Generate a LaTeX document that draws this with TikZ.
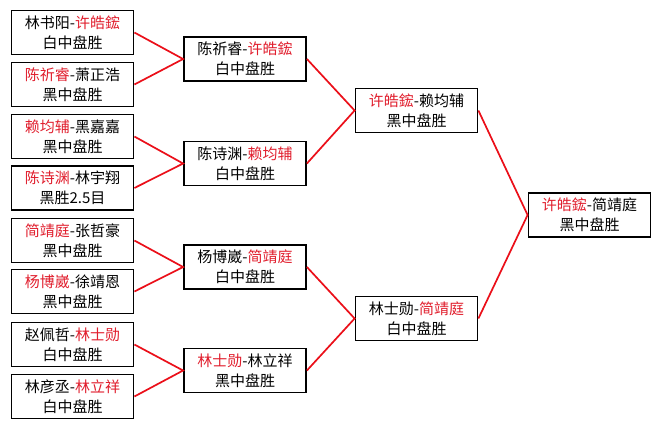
\documentclass[tikz,border=0pt]{standalone}
\usepackage{fontspec}
\setmainfont{Noto Sans CJK SC}
\definecolor{wred}{RGB}{225,30,45}
\definecolor{linkred}{RGB}{235,15,25}
\newcommand{\rd}[1]{\textcolor{wred}{#1}}
\begin{document}
\begin{tikzpicture}[x=1pt,y=-1pt,
  box/.style={draw=black, line width=1.8pt, minimum width=122pt, minimum height=44pt,
    inner sep=0pt, align=center, font=\fontsize{15}{20}\selectfont},
  link/.style={draw=linkred, line width=1.7pt}]
\useasboundingbox[fill=white] (0,0) rectangle (660,429);
% round 1
\node[box] (a1) at (72.5,32.5) {林书阳-\rd{许皓鋐}\\白中盘胜};
\node[box] (a2) at (72.5,84.5) {\rd{陈祈睿}-萧正浩\\黑中盘胜};
\node[box] (a3) at (72.5,136.5) {\rd{赖均辅}-黑嘉嘉\\黑中盘胜};
\node[box] (a4) at (72.5,188) {\rd{陈诗渊}-林宇翔\\黑胜2.5目};
\node[box] (a5) at (72.5,240.5) {\rd{简靖庭}-张哲豪\\黑中盘胜};
\node[box] (a6) at (72.5,291.5) {\rd{杨博崴}-徐靖恩\\黑中盘胜};
\node[box] (a7) at (72.5,344.5) {赵佩哲-\rd{林士勋}\\白中盘胜};
\node[box] (a8) at (72.5,396.5) {林彦丞-\rd{林立祥}\\白中盘胜};
% round 2
\node[box] (b1) at (245,59) {陈祈睿-\rd{许皓鋐}\\白中盘胜};
\node[box] (b2) at (245,163.5) {陈诗渊-\rd{赖均辅}\\白中盘胜};
\node[box] (b3) at (245,267) {杨博崴-\rd{简靖庭}\\白中盘胜};
\node[box] (b4) at (245,370.5) {\rd{林士勋}-林立祥\\黑中盘胜};
% round 3
\node[box] (c1) at (416.5,110.5) {\rd{许皓鋐}-赖均辅\\黑中盘胜};
\node[box] (c2) at (416.5,318.5) {林士勋-\rd{简靖庭}\\白中盘胜};
% final
\node[box] (d1) at (589.5,215) {\rd{许皓鋐}-简靖庭\\黑中盘胜};
% links
\draw[link] (a1.east) -- (b1.west) -- (a2.east);
\draw[link] (a3.east) -- (b2.west) -- (a4.east);
\draw[link] (a5.east) -- (b3.west) -- (a6.east);
\draw[link] (a7.east) -- (b4.west) -- (a8.east);
\draw[link] (b1.east) -- (c1.west) -- (b2.east);
\draw[link] (b3.east) -- (c2.west) -- (b4.east);
\draw[link] (c1.east) -- (d1.west) -- (c2.east);
\end{tikzpicture}
\end{document}
